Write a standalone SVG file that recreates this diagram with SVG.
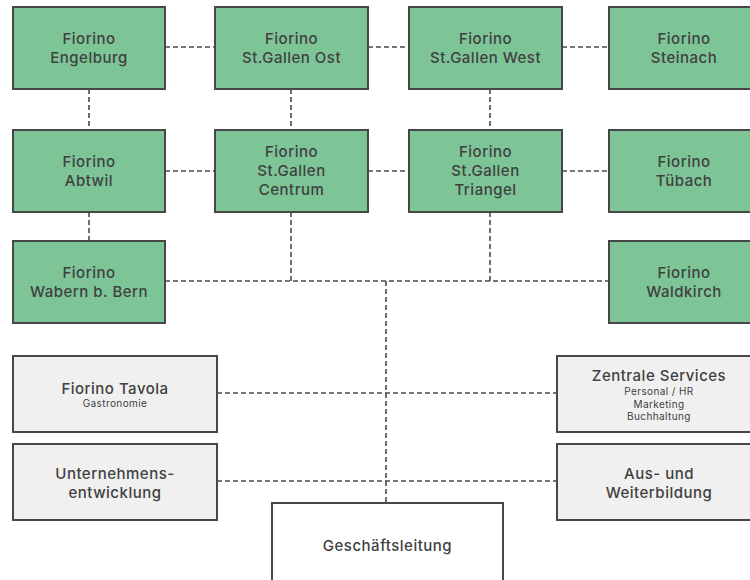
<svg xmlns="http://www.w3.org/2000/svg" width="750" height="580" viewBox="0 0 750 580">
<style>
.g{fill:#7dc497;stroke:#474747;stroke-width:2}
.w{fill:#f0f0f0;stroke:#474747;stroke-width:2}
.m{fill:#ffffff;stroke:#474747;stroke-width:2}
text{font-family:Inter,"Noto Sans","Liberation Sans",sans-serif;fill:#404040;text-anchor:middle}
.t{font-size:15px;font-weight:500;letter-spacing:0.5px}
.s{font-size:10px;letter-spacing:0.4px}
.c line{stroke:#4a4a4a;stroke-width:1.6;stroke-dasharray:5 3}
</style>
<rect width="750" height="580" fill="#ffffff"/>
<g class="c" id="connectors">
<line x1="165" y1="47" x2="215" y2="47"/>
<line x1="368" y1="47" x2="409" y2="47"/>
<line x1="562" y1="47" x2="609" y2="47"/>
<line x1="165" y1="171" x2="215" y2="171"/>
<line x1="368" y1="171" x2="409" y2="171"/>
<line x1="562" y1="171" x2="609" y2="171"/>
<line x1="89" y1="89" x2="89" y2="130"/>
<line x1="89" y1="212" x2="89" y2="241"/>
<line x1="291" y1="89" x2="291" y2="130"/>
<line x1="490" y1="89" x2="490" y2="130"/>
<line x1="291" y1="212" x2="291" y2="281"/>
<line x1="490" y1="212" x2="490" y2="281"/>
<line x1="165" y1="281" x2="609" y2="281"/>
<line x1="386" y1="281" x2="386" y2="503"/>
<line x1="217" y1="393" x2="557" y2="393"/>
<line x1="217" y1="481" x2="557" y2="481"/>
</g>
<g id="engelburg"><rect class="g" x="13" y="7" width="152" height="82"/><text class="t" x="89" y="44">Fiorino</text><text class="t" x="89" y="63">Engelburg</text></g>
<g id="sg-ost"><rect class="g" x="215" y="7" width="153" height="82"/><text class="t" x="291.5" y="44">Fiorino</text><text class="t" x="291.5" y="63">St.Gallen Ost</text></g>
<g id="sg-west"><rect class="g" x="409" y="7" width="153" height="82"/><text class="t" x="485.5" y="44">Fiorino</text><text class="t" x="485.5" y="63">St.Gallen West</text></g>
<g id="steinach"><rect class="g" x="609" y="7" width="152" height="82"/><text class="t" x="684" y="44">Fiorino</text><text class="t" x="684" y="63">Steinach</text></g>
<g id="abtwil"><rect class="g" x="13" y="130" width="152" height="82"/><text class="t" x="89" y="167">Fiorino</text><text class="t" x="89" y="186">Abtwil</text></g>
<g id="sg-centrum"><rect class="g" x="215" y="130" width="153" height="82"/><text class="t" x="291.5" y="157">Fiorino</text><text class="t" x="291.5" y="176">St.Gallen</text><text class="t" x="291.5" y="195">Centrum</text></g>
<g id="sg-triangel"><rect class="g" x="409" y="130" width="153" height="82"/><text class="t" x="485.5" y="157">Fiorino</text><text class="t" x="485.5" y="176">St.Gallen</text><text class="t" x="485.5" y="195">Triangel</text></g>
<g id="tuebach"><rect class="g" x="609" y="130" width="152" height="82"/><text class="t" x="684" y="167">Fiorino</text><text class="t" x="684" y="186">Tübach</text></g>
<g id="wabern"><rect class="g" x="13" y="241" width="152" height="82"/><text class="t" x="89" y="278">Fiorino</text><text class="t" x="89" y="297">Wabern b. Bern</text></g>
<g id="waldkirch"><rect class="g" x="609" y="241" width="152" height="82"/><text class="t" x="684" y="278">Fiorino</text><text class="t" x="684" y="297">Waldkirch</text></g>
<g id="tavola"><rect class="w" x="13" y="356" width="204" height="76"/><text class="t" x="115" y="394">Fiorino Tavola</text><text class="s" x="115" y="407">Gastronomie</text></g>
<g id="unternehmensentwicklung"><rect class="w" x="13" y="444" width="204" height="76"/><text class="t" x="115" y="479">Unternehmens-</text><text class="t" x="115" y="498">entwicklung</text></g>
<g id="zentrale-services"><rect class="w" x="557" y="356" width="204" height="76"/><text class="t" x="659" y="381">Zentrale Services</text><text class="s" x="659" y="395">Personal / HR</text><text class="s" x="659" y="408">Marketing</text><text class="s" x="659" y="420">Buchhaltung</text></g>
<g id="aus-weiterbildung"><rect class="w" x="557" y="444" width="204" height="76"/><text class="t" x="659" y="479">Aus- und</text><text class="t" x="659" y="498">Weiterbildung</text></g>
<g id="geschaeftsleitung"><rect class="m" x="272" y="503" width="231" height="90"/><text class="t" x="387.5" y="551">Geschäftsleitung</text></g>
</svg>
